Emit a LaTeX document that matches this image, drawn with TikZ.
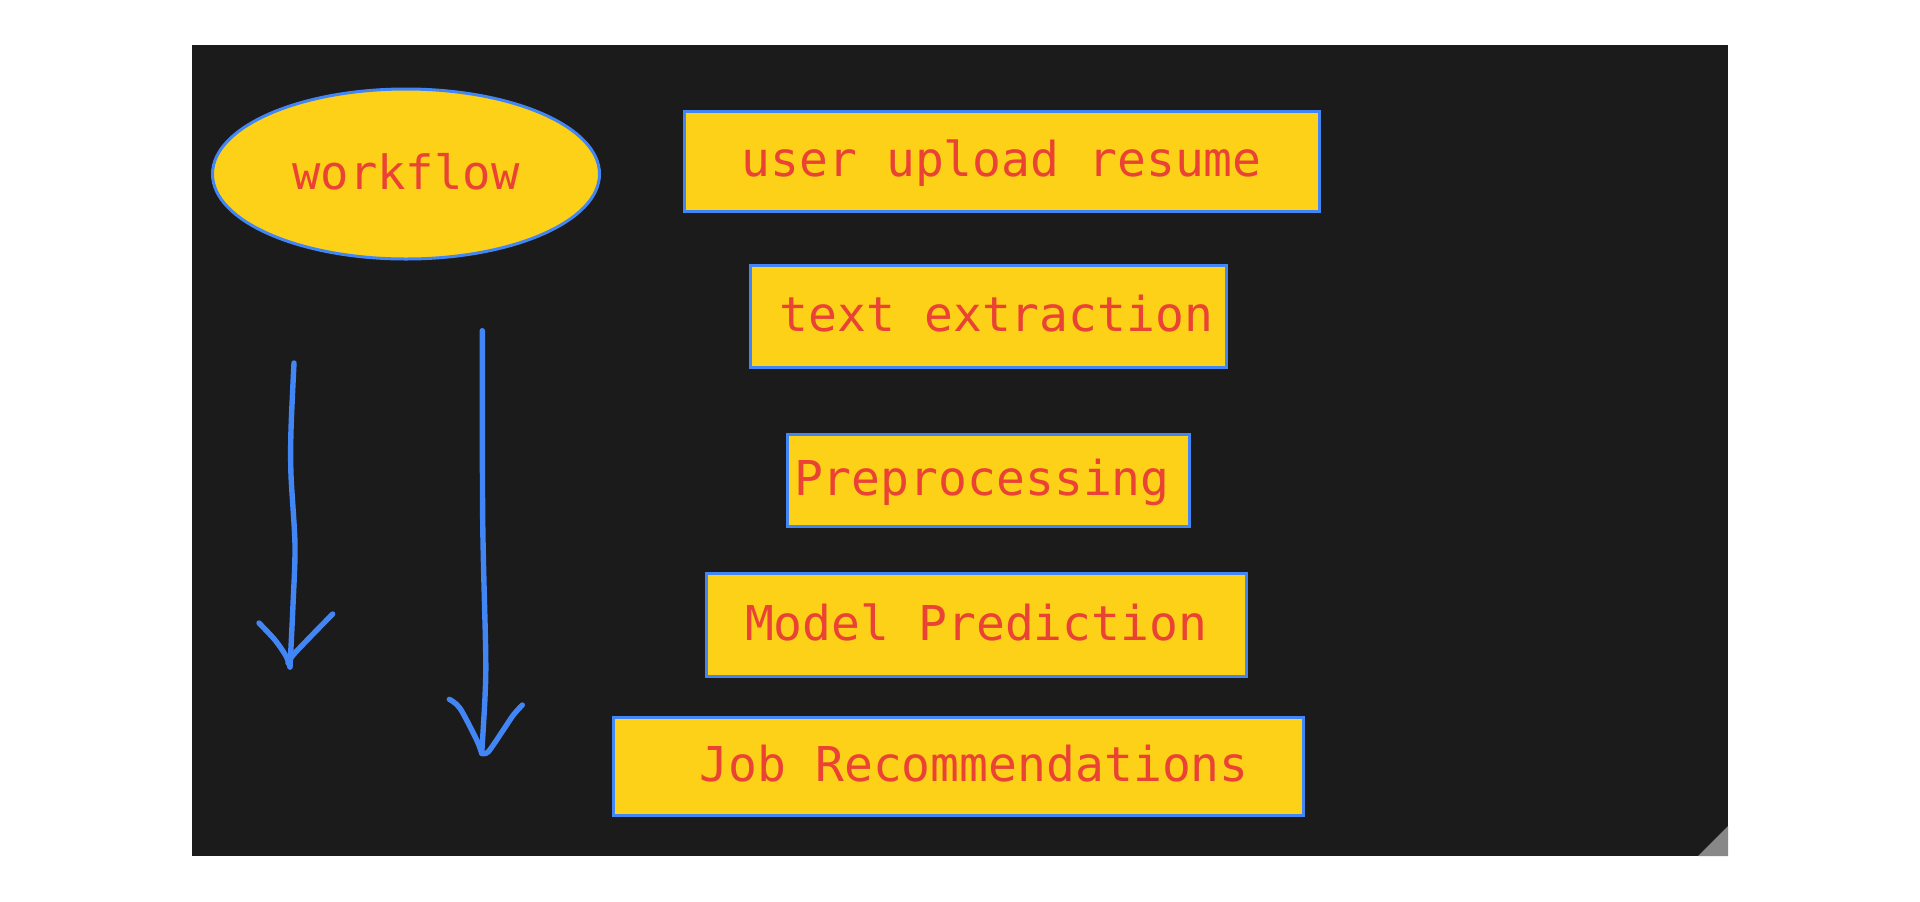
\documentclass[tikz,border=0pt]{standalone}
\usepackage{fontspec}
\usetikzlibrary{shapes.geometric}
\newfontfamily\boxmono{DejaVu Sans Mono}
\definecolor{bgdark}{HTML}{1B1B1B}
\definecolor{boxyellow}{HTML}{FCD117}
\definecolor{boxblue}{HTML}{4285F4}
\definecolor{textred}{HTML}{EA4335}
\definecolor{cornergray}{HTML}{888888}
\begin{document}
\begin{tikzpicture}[x=0.5pt, y=-0.5pt,
    stepbox/.style={draw=boxblue, line width=1.5pt, fill=boxyellow, text=textred,
      inner sep=0pt, text height=17pt, text depth=2pt,
      font=\boxmono\fontsize{24pt}{28pt}\selectfont},
    handarrow/.style={draw=boxblue, line width=2.7pt, line cap=round, line join=round}]
    \useasboundingbox (0,0) rectangle (1920,901);
    % board
    \fill[bgdark] (192,45) rectangle (1728,856);
    \fill[cornergray] (1698,856) -- (1728,856) -- (1728,826) -- cycle;

    \coordinate (W) at (406,174);
    \coordinate (U) at (1001.7,161.7);
    \coordinate (T) at (988.5,316.8);
    \coordinate (P) at (988.9,480.5);
    \coordinate (M) at (976.2,625);
    \coordinate (J) at (958.2,766.5);

    \node[stepbox, ellipse, minimum width=193.5pt, minimum height=85pt,
      font=\boxmono\fontsize{23.6pt}{28pt}\selectfont] (workflow) at (W) {workflow};
    \node[stepbox, minimum width=317.3pt, minimum height=50.2pt] (upload) at (U) {user upload resume};
    \node[stepbox, minimum width=238.1pt, minimum height=51pt] (extract) at (T) {\hspace*{8pt}text extraction};
    \node[stepbox, minimum width=201pt, minimum height=46.3pt] (prep) at (P) {Preprocessing\hspace*{7pt}};
    \node[stepbox, minimum width=269.9pt, minimum height=51.8pt] (model) at (M) {Model Prediction};
    \node[stepbox, minimum width=344.9pt, minimum height=49.3pt] (jobs) at (J) {\hspace*{16pt}Job Recommendations};

    % hand drawn arrows
    \coordinate (a1top) at (294,363);
    \coordinate (a1tip) at (290,667);
    \coordinate (a2top) at (482.3,330.7);
    \coordinate (a2tip) at (481.7,753.3);

    \draw[handarrow] plot[smooth] coordinates {(a1top) (291,430) (291,475) (295,545) (293,605) (a1tip)};
    \draw[handarrow] plot[smooth] coordinates {(259,623) (275,640) (286,656) (a1tip)};
    \draw[handarrow] plot[smooth] coordinates {(288,663) (294,654) (316,631) (332.7,614)};

    \draw[handarrow] plot[smooth] coordinates {(a2top) (482.7,520) (485.7,653) (485,697) (a2tip)};
    \draw[handarrow] plot[smooth] coordinates {(449.3,699.3) (460,708.3) (476.7,740) (a2tip)};
    \draw[handarrow] plot[smooth] coordinates {(a2tip) (488.3,751.7) (503.3,730) (513.3,715) (522.3,705)};
  \end{tikzpicture}
\end{document}
